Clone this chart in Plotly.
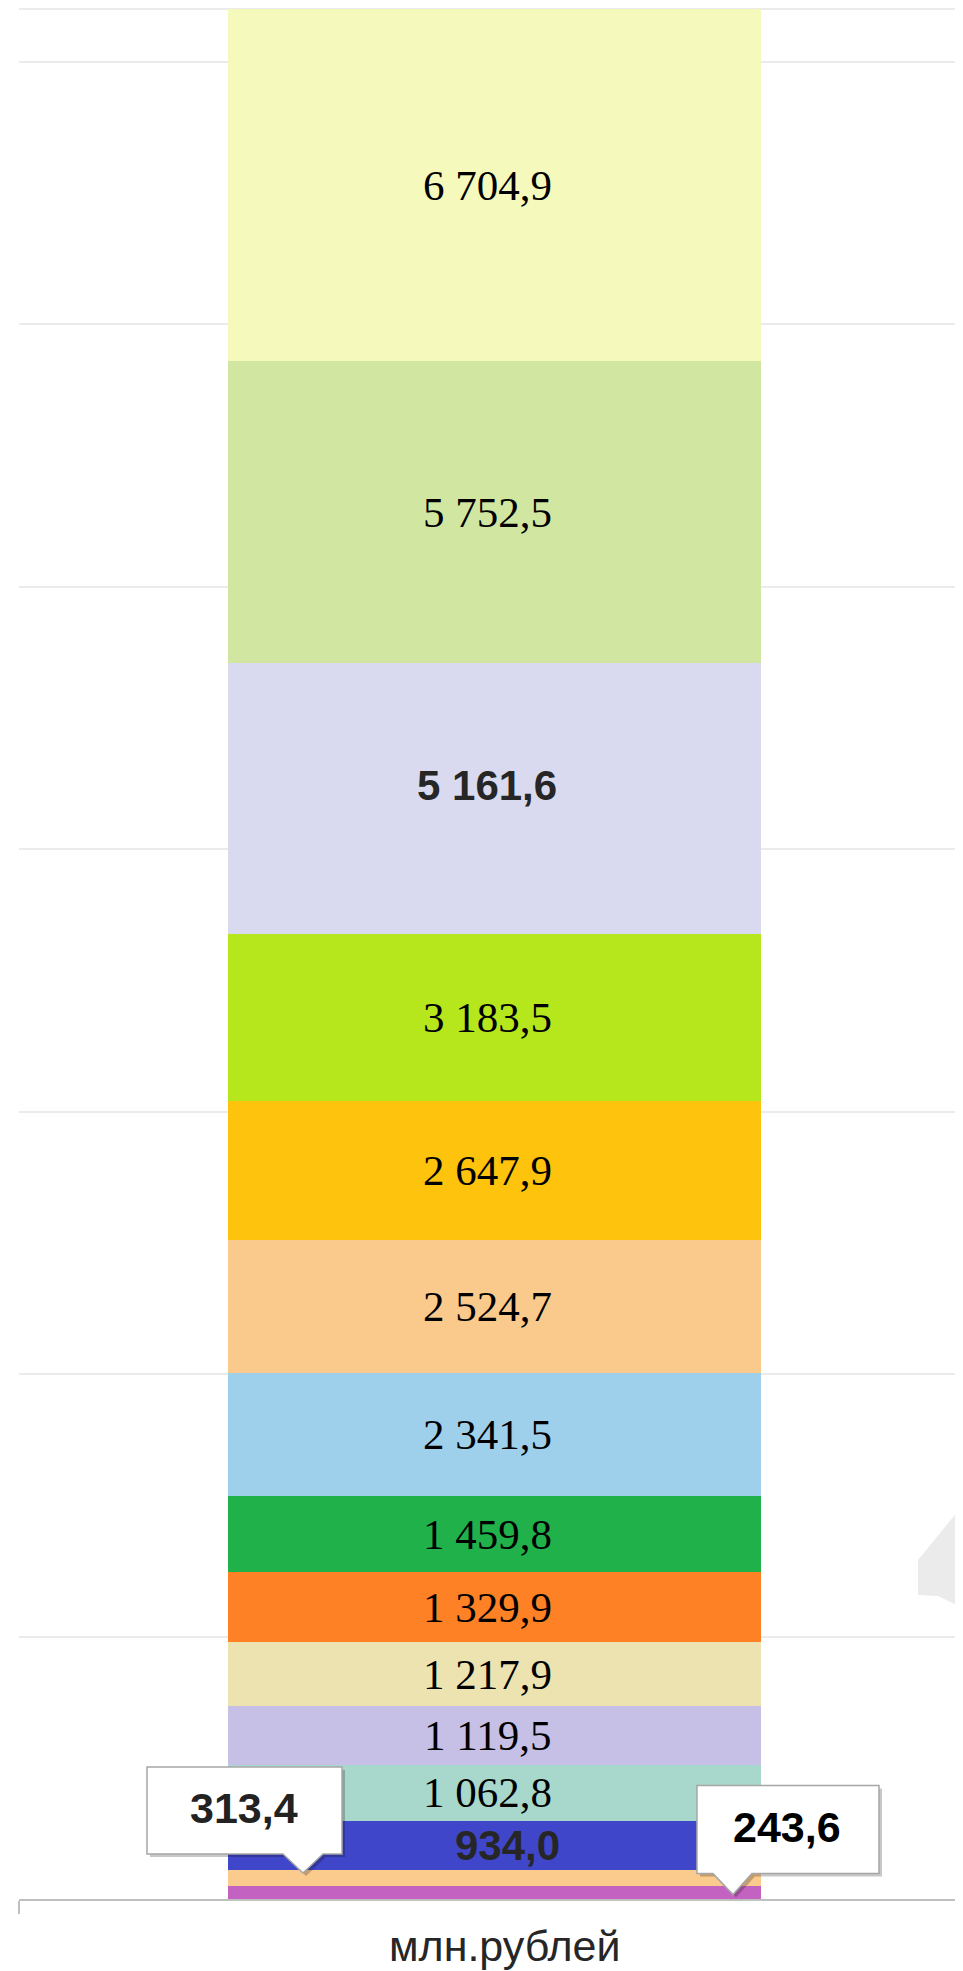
import plotly.graph_objects as go

# ---- data (bottom to top of the stack) ----
values = [243.6, 313.4, 934.0, 1062.8, 1119.5, 1217.9, 1329.9, 1459.8,
          2341.5, 2524.7, 2647.9, 3183.5, 5161.6, 5752.5, 6704.9]
labels = ["243,6", "313,4", "934,0", "1 062,8", "1 119,5", "1 217,9", "1 329,9", "1 459,8",
          "2 341,5", "2 524,7", "2 647,9", "3 183,5", "5 161,6", "5 752,5", "6 704,9"]
colors = ["#c462c1", "#fbca8d", "#4046c9", "#a8d8cc", "#c6bfe6", "#ece3b0", "#fe8125", "#21b14b",
          "#9ecfeb", "#f9ca8c", "#fdc30d", "#b6e61c", "#d9daef", "#d1e6a0", "#f5f9bb"]
category_title = "млн.рублей"
y_ticks = [5000, 10000, 15000, 20000, 25000, 30000, 35000]

# page body has an 8px default margin; compensate
OFF = 8
WIN_W, WIN_H = 963, 1971
W, H = WIN_W - OFF, WIN_H - OFF
ML, MR, MT, MB = 19 - OFF, 0, 9 - OFF, 72
PW = W - ML - MR
PH = H - MT - MB
BAR_W = 0.5646
X_RANGE = [-0.5037, 0.4963]
Y_RANGE = [0, 36000]

fig = go.Figure()
for v, c, lab in zip(values, colors, labels):
    fig.add_trace(go.Bar(x=[0], y=[v], width=[BAR_W], marker=dict(color=c, line=dict(width=0)),
                         name=lab, showlegend=False, hoverinfo="skip"))

# cumulative bases
bases = []
acc = 0
for v in values:
    bases.append(acc)
    acc += v

annotations = []
serif = "Liberation Serif, Times New Roman, serif"
sans = "Liberation Sans, Arial, sans-serif"
for i, (v, lab) in enumerate(zip(values, labels)):
    if lab in ("243,6", "313,4"):
        continue
    font = dict(family=serif, size=43, color="#000000")
    xs, ys = -7, 0
    if lab == "5 161,6":
        font = dict(family=sans, size=42, color="#262626", weight="bold")
        ys = 13
    if lab == "934,0":
        font = dict(family=sans, size=42, color="#262626", weight="bold")
        xs = 13
    annotations.append(dict(x=0, y=bases[i] + v / 2, xref="x", yref="y", text=lab, showarrow=False,
                            font=font, xanchor="center", yanchor="middle", xshift=xs, yshift=ys))

shapes = []
# top border line
shapes.append(dict(type="line", xref="paper", yref="paper", x0=0, x1=1, y0=1, y1=1,
                   line=dict(color="#ebebeb", width=2), layer="below"))


# window pixel -> paper fraction
def pp(px, py):
    return (px - OFF - ML) / PW, (OFF + H - MB - py) / PH


# grey partial shape at right edge (decoration)
blob_px = [(975, 1505), (963, 1505), (918, 1560), (918, 1595), (938, 1596), (963, 1608), (975, 1608)]
pts = [pp(a, b) for a, b in blob_px]
path = "M " + " L ".join(f"{x:.5f},{y:.5f}" for x, y in pts) + " Z"
shapes.append(dict(type="path", xref="paper", yref="paper", path=path,
                   fillcolor="#ebebeb", line=dict(width=0), layer="above"))


# callout bubbles
def bubble(xa, ya, pts_rel, shadow=False):
    d = 3 if shadow else 0
    p = "M " + " L ".join(f"{x + d},{y - d}" for x, y in pts_rel) + " Z"
    return dict(type="path", xref="x", yref="y", xsizemode="pixel", ysizemode="pixel",
                xanchor=xa, yanchor=ya, path=p,
                fillcolor="rgba(0,0,0,0.22)" if shadow else "#ffffff",
                line=dict(width=0) if shadow else dict(color="#a6a6a6", width=1.5),
                layer="above")


# 313,4 callout anchored at left part of bar
i313 = labels.index("313,4")
ya313 = bases[i313] + values[i313] / 2
rel313 = [(-81, 111), (114, 111), (114, 24), (95, 24), (75, 5), (55, 24), (-81, 24)]
shapes.append(bubble(-BAR_W / 2, ya313, rel313, shadow=True))
shapes.append(bubble(-BAR_W / 2, ya313, rel313))
annotations.append(dict(x=-BAR_W / 2, y=ya313, xref="x", yref="y", text=labels[i313], showarrow=False,
                        font=dict(family=sans, size=43, color="#222222", weight="bold"),
                        xanchor="center", yanchor="middle", xshift=16, yshift=70))

# 243,6 callout anchored at right part of bar
i243 = labels.index("243,6")
ya243 = bases[i243] + values[i243] / 2
rel243 = [(-64, 107), (118, 107), (118, 19), (-9, 19), (-28, -2), (-48, 19), (-64, 19)]
shapes.append(bubble(BAR_W / 2, ya243, rel243, shadow=True))
shapes.append(bubble(BAR_W / 2, ya243, rel243))
annotations.append(dict(x=BAR_W / 2, y=ya243, xref="x", yref="y", text=labels[i243], showarrow=False,
                        font=dict(family=sans, size=43, color="#000000", weight="bold"),
                        xanchor="center", yanchor="middle", xshift=26, yshift=66))

# category title under the axis
tx, ty = pp(504, 1946)
annotations.append(dict(x=tx, y=ty, xref="paper", yref="paper", text=category_title, showarrow=False,
                        font=dict(family=sans, size=43, color="#262626"),
                        xanchor="center", yanchor="middle"))

fig.update_layout(
    width=W, height=H, barmode="stack",
    margin=dict(l=ML, r=MR, t=MT, b=MB, pad=0),
    paper_bgcolor="#ffffff", plot_bgcolor="#ffffff",
    xaxis=dict(range=X_RANGE, showgrid=False, zeroline=False, showticklabels=False,
               showline=True, linecolor="#bfbfbf", linewidth=2,
               tickmode="array", tickvals=[X_RANGE[0]], ticks="outside", ticklen=13,
               tickwidth=2, tickcolor="#bfbfbf", fixedrange=True),
    yaxis=dict(range=Y_RANGE, showgrid=True, gridcolor="#ebebeb", gridwidth=2,
               tickmode="array", tickvals=y_ticks, showticklabels=False, zeroline=False,
               showline=False, ticks="", fixedrange=True),
    annotations=annotations, shapes=shapes, bargap=0,
)

fig.write_html("out.html")
